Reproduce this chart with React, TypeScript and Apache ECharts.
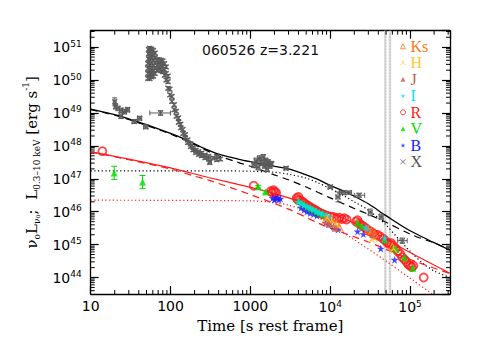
import { useEffect, useRef } from "react";
import * as echarts from "echarts";

// ---------- axis tick labels ----------
const xTickValues = [10, 100, 1000, 1e4, 1e5];
const xTickLabels = ["10", "100", "1000", "{b|10}{s|4}", "{b|10}{s|5}"];
const yTickExps = [44, 45, 46, 47, 48, 49, 50, 51];

// ---------- model curves: [time s, log10 L] ----------
const blackSolid = [
  [10, 49.12], [20, 48.95], [40, 48.72], [70, 48.52], [100, 48.38], [160, 48.18], [250, 47.95],
  [400, 47.75], [700, 47.6], [1000, 47.52], [2000, 47.38], [3000, 47.3], [5000, 47.12], [7000, 46.98],
  [10000, 46.8], [15000, 46.62], [20000, 46.47], [30000, 46.24], [50000, 45.88], [100000, 45.42],
  [200000, 45.06], [316000, 44.83],
];
const blackDashed = [
  [10, 49.1], [20, 48.93], [40, 48.7], [70, 48.5], [100, 48.36], [160, 48.15], [250, 47.92],
  [400, 47.7], [700, 47.5], [1000, 47.38], [2000, 47.12], [3000, 46.97], [5000, 46.75], [10000, 46.42],
  [20000, 46.1], [30000, 45.92], [50000, 45.68], [100000, 45.32], [200000, 45.05], [316000, 44.85],
];
const blackDotted = [
  [10, 47.24], [500, 47.24], [1000, 47.23], [2000, 47.2], [3000, 47.14], [5000, 47.02], [7000, 46.88],
  [10000, 46.7], [15000, 46.48], [20000, 46.3], [30000, 46.05], [50000, 45.6], [70000, 45.2],
  [100000, 44.8], [150000, 44.4], [200000, 44.2], [316000, 44.0],
];
const redSolid = [
  [10, 47.82], [30, 47.6], [100, 47.33], [300, 47.04], [1000, 46.74], [2000, 46.55], [5000, 46.25],
  [10000, 45.97], [30000, 45.45], [100000, 44.76], [316000, 44.13],
];
const redDashed = [
  [10, 47.82], [30, 47.58], [100, 47.3], [200, 47.08], [300, 46.96], [1000, 46.52], [3000, 46.08],
  [7000, 45.66], [10000, 45.5], [30000, 45.08], [100000, 44.55], [316000, 44.12],
];
const redDotted = [
  [10, 46.35], [1000, 46.33], [2000, 46.28], [3000, 46.2], [5000, 46.02], [10000, 45.62],
  [20000, 45.15], [50000, 44.5], [100000, 43.98], [190000, 43.5], [220000, 43.4],
];

// ---------- vertical markers (s) ----------
const vLines = [49000, 56000];

// ---------- X-ray data: [t, log10 L, err dex, tLo, tHi] ----------
const xEarly = [
  [20, 49.34, 0.12, 19.2, 20.8], [20.5, 49.2, 0.08, 19.7, 21.3], [22, 49.14, 0.07, 21, 23],
  [24, 49.08, 0.07, 23, 25], [24, 48.9, 0.07, 23, 25], [26.5, 49.04, 0.07, 25, 28],
  [29, 49.1, 0.07, 27.5, 30.5], [35, 48.74, 0.06, 33, 37], [41, 48.84, 0.06, 38.5, 43.5],
  [49, 48.58, 0.06, 46, 52], [75, 49.0, 0.07, 55, 100],
];
const xLate = [
  [310, 47.5, 0.06, 295, 325],
  [1100, 47.42, 0.08, 1050, 1150], [1180, 47.55, 0.08, 1120, 1240], [1250, 47.35, 0.08, 1190, 1310],
  [1300, 47.62, 0.08, 1240, 1360], [1380, 47.48, 0.08, 1320, 1440], [1450, 47.66, 0.08, 1390, 1510],
  [1500, 47.4, 0.08, 1440, 1560], [1560, 47.55, 0.08, 1500, 1620], [1620, 47.3, 0.08, 1560, 1680],
  [1680, 47.5, 0.08, 1620, 1740], [1760, 47.4, 0.08, 1700, 1820], [1850, 47.45, 0.08, 1790, 1910],
  [2800, 47.32, 0.05, 2650, 2950],
  [10000, 46.75, 0.05, 9400, 10600], [12500, 46.45, 0.15, 11800, 13200], [14000, 46.58, 0.05, 13000, 15000],
  [17000, 46.58, 0.05, 15500, 18500], [23000, 46.5, 0.06, 20000, 27000], [31600, 45.98, 0.1, 30000, 33500],
  [43500, 45.85, 0.08, 41000, 46000], [80000, 45.12, 0.08, 70000, 92000],
];
// flare: [t, log10 L]
const flare = [
  [52, 50.05], [52, 50.2], [52, 50.35], [52, 50.5], [53, 50.65], [53, 50.8], [53, 50.93],
  [55, 50.05], [55, 50.18], [55, 50.32], [55, 50.46], [55, 50.6], [55, 50.74], [55, 50.88], [55, 50.97],
  [58, 50.1], [58, 50.24], [58, 50.38], [58, 50.52], [58, 50.66], [58, 50.8], [58, 50.94],
  [61, 50.12], [61, 50.28], [61, 50.44], [61, 50.6], [61, 50.76], [61, 50.9],
  [64, 50.2], [64, 50.36], [64, 50.52], [64, 50.68], [64, 50.82],
  [68, 50.3], [68, 50.46], [68, 50.62], [72, 50.32], [72, 50.48], [72, 50.62],
  [76, 50.28], [76, 50.45], [76, 50.6], [80, 50.25], [80, 50.42], [80, 50.58],
  [84, 50.15], [84, 50.32], [84, 50.5], [88, 50.0], [88, 50.2], [88, 50.4],
  [93, 49.75], [93, 49.95], [93, 50.12], [98, 49.55], [98, 49.72], [104, 49.35], [104, 49.5],
  [111, 49.1], [111, 49.25], [118, 48.9], [118, 49.05], [126, 48.72], [126, 48.85],
  [134, 48.55], [134, 48.66], [143, 48.38], [143, 48.5], [153, 48.25], [153, 48.34],
  [164, 48.1], [164, 48.18], [178, 47.98], [178, 48.06], [192, 47.88], [192, 47.94],
  [207, 47.8], [207, 47.86], [225, 47.74], [225, 47.82], [245, 47.7], [245, 47.78],
  [270, 47.64], [270, 47.72], [300, 47.6], [300, 47.68], [340, 47.63], [380, 47.58], [380, 47.68], [420, 47.6],
];

// ---------- optical data: [t, log10 L] ----------
const rPoints = [
  [14, 47.84], [1100, 46.79],
  [1800, 46.62], [1870, 46.58], [1950, 46.65], [2020, 46.6], [2100, 46.58],
  [3800, 46.42], [3900, 46.36], [4000, 46.45], [4200, 46.35], [4400, 46.32], [4600, 46.28], [4800, 46.25],
  [5000, 46.2], [5300, 46.18], [5600, 46.14], [6000, 46.1], [6400, 46.06], [6800, 46.02], [7200, 45.98],
  [7600, 45.95], [8000, 45.92], [9000, 45.88], [10000, 45.85], [11000, 45.84], [12000, 45.8],
  [13000, 45.82], [14000, 45.78], [15000, 45.8], [16000, 45.76],
  [21000, 45.7], [22000, 45.74], [23000, 45.64], [24500, 45.6], [26000, 45.55], [28000, 45.5],
  [30000, 45.42], [32000, 45.4], [34000, 45.35], [36000, 45.3], [39000, 45.3], [42000, 45.25],
  [46000, 45.18], [49000, 45.12], [52000, 45.06], [55000, 45.02], [58000, 45.04], [62000, 44.96],
  [66000, 44.88], [70000, 44.8], [75000, 44.72], [80000, 44.62], [85000, 44.55], [90000, 44.48],
  [95000, 44.4], [100000, 44.36], [105000, 44.32], [110000, 44.36], [148000, 44.0],
];
// V: [t, log10 L, err dex]
const vPoints = [
  [19.7, 47.18, 0.2], [44.6, 46.9, 0.2], [1250, 46.76, 0.04], [1550, 46.6, 0.04],
  [4000, 46.33, 0], [4400, 46.27, 0], [4800, 46.22, 0], [5300, 46.15, 0], [5800, 46.1, 0], [6300, 46.05, 0],
  [6900, 46.0, 0], [7500, 45.96, 0], [8200, 45.92, 0], [9000, 45.87, 0],
  [22000, 45.66, 0.03], [25000, 45.56, 0.03],
  [48000, 45.15, 0.03], [62000, 44.92, 0.03], [67000, 44.86, 0.04], [85000, 44.6, 0.04], [108000, 44.28, 0.05],
];
const iPoints = [
  [4000, 46.3], [4300, 46.26], [4700, 46.21], [5100, 46.16], [5600, 46.12], [6100, 46.07], [6700, 46.02],
  [7300, 45.98], [8000, 45.94], [9000, 45.88], [9800, 45.85], [28000, 45.52], [29500, 45.48], [48000, 45.2],
];
const bPoints = [
  [1900, 46.42], [2000, 46.36], [2080, 46.4], [2180, 46.43], [2280, 46.37], [2380, 46.4],
  [4300, 46.12], [4700, 46.06], [5100, 46.0], [5600, 45.96], [6200, 45.93], [6800, 45.88],
  [8800, 45.66], [9500, 45.62], [11000, 45.55], [12500, 45.46], [22000, 45.4], [26000, 45.32],
  [43000, 44.88], [64000, 44.54],
];
const ksPoints = [
  [8800, 45.76], [9500, 45.7], [10200, 45.8], [11000, 45.64], [12000, 45.66], [13000, 45.52],
  [30000, 45.45], [33000, 45.4], [36000, 45.32], [60000, 44.95],
];
const hPoints = [[9200, 45.8], [10500, 45.72], [12000, 45.6], [33000, 45.15], [35000, 45.2], [62000, 44.86]];
const jPoints = [[9800, 45.62], [11500, 45.5], [34000, 45.3]];

const legendNames = ["Ks", "H", "J", "I", "R", "V", "B", "X"];
const legendColors = ["#ff7a1a", "#ffc933", "#c65a55", "#00e0ff", "#ff1a1a", "#00e000", "#1a1aff", "#555555"];

const P = (v: number) => Math.pow(10, v);
const toPts = (a: number[][]) => a.map((d) => [d[0], P(d[1])]);

const STAR = "path://M50,0L61,35L98,35L68,57L79,91L50,70L21,91L32,57L2,35L39,35Z";
const CROSS = "path://M0,0L10,10M10,0L0,10";
const HSYM = "path://M0,10L5,4L10,10M5,4L5,0";
const FONT = "DejaVu Sans";

function errRender(color: string, cap: number) {
  return (_p: any, api: any) => {
    const t = api.value(0), L = api.value(1), lo = api.value(2), hi = api.value(3), tl = api.value(4), th = api.value(5);
    const c = api.coord([t, L]);
    const a = api.coord([t, lo]);
    const b = api.coord([t, hi]);
    const l = api.coord([tl, L]);
    const r = api.coord([th, L]);
    const st = { stroke: color, lineWidth: 1 };
    const ch: any[] = [];
    if (Math.abs(a[1] - b[1]) > 0.5) {
      ch.push({ type: "line", shape: { x1: c[0], y1: a[1], x2: c[0], y2: b[1] }, style: st });
      ch.push({ type: "line", shape: { x1: c[0] - cap, y1: a[1], x2: c[0] + cap, y2: a[1] }, style: st });
      ch.push({ type: "line", shape: { x1: c[0] - cap, y1: b[1], x2: c[0] + cap, y2: b[1] }, style: st });
    }
    if (Math.abs(r[0] - l[0]) > 0.5) {
      ch.push({ type: "line", shape: { x1: l[0], y1: c[1], x2: r[0], y2: c[1] }, style: st });
      ch.push({ type: "line", shape: { x1: l[0], y1: c[1] - cap, x2: l[0], y2: c[1] + cap }, style: st });
      ch.push({ type: "line", shape: { x1: r[0], y1: c[1] - cap, x2: r[0], y2: c[1] + cap }, style: st });
    }
    return { type: "group", children: ch };
  };
}

export default function App() {
  const ref = useRef<HTMLDivElement>(null);
  useEffect(() => {
    if (!ref.current) return;
    const chart = echarts.init(ref.current, null, { renderer: "svg", width: 491, height: 360 });

    const xMin = 10, xMax = P(5.5), yMin = P(43.5), yMax = P(51.5);
    const xMinor: number[][] = [];
    for (let d = 1; d <= 5; d++) for (let k = 2; k <= 9; k++) { const v = k * P(d); if (v < xMax) xMinor.push([v, P(47)]); }
    const yMinor: number[][] = [];
    for (let d = 43; d <= 51; d++) for (let k = 2; k <= 9; k++) { const v = k * P(d); if (v > yMin && v < yMax) yMinor.push([100, v]); }

    const tickStyle = { stroke: "#000", lineWidth: 1 };
    const xMinorRender = (params: any, api: any) => {
      const cs = params.coordSys;
      const x = api.coord([api.value(0), api.value(1)])[0];
      const b = cs.y + cs.height;
      return { type: "group", children: [
        { type: "line", shape: { x1: x, y1: b, x2: x, y2: b - 4 }, style: tickStyle },
        { type: "line", shape: { x1: x, y1: cs.y, x2: x, y2: cs.y + 4 }, style: tickStyle },
      ] };
    };
    const yMinorRender = (params: any, api: any) => {
      const cs = params.coordSys;
      const y = api.coord([api.value(0), api.value(1)])[1];
      const r = cs.x + cs.width;
      return { type: "group", children: [
        { type: "line", shape: { x1: cs.x, y1: y, x2: cs.x + 4, y2: y }, style: tickStyle },
        { type: "line", shape: { x1: r, y1: y, x2: r - 4, y2: y }, style: tickStyle },
      ] };
    };
    const vlineRender = (params: any, api: any) => {
      const cs = params.coordSys;
      const x = api.coord([api.value(0), api.value(1)])[0];
      return { type: "group", children: [
        { type: "line", shape: { x1: x, y1: cs.y, x2: x, y2: cs.y + cs.height }, style: { stroke: "#dcdcdc", lineWidth: 2.5 } },
        { type: "line", shape: { x1: x, y1: cs.y, x2: x, y2: cs.y + cs.height }, style: { stroke: "#a8a8a8", lineWidth: 0.8, lineDash: [1, 2] } },
      ] };
    };

    const lineSeries = (data: number[][], color: string, type: any, width: number) => ({
      type: "line", data: toPts(data), showSymbol: false, symbol: "none", smooth: 0.3,
      lineStyle: { color, width, type }, silent: true, z: 2,
    });

    const xErrData = [...xEarly, ...xLate].map((d) => [d[0], P(d[1]), P(d[1] - d[2]), P(d[1] + d[2]), d[3], d[4]]);
    const flareErr = flare.map((d) => [d[0], P(d[1]), P(d[1] - 0.05), P(d[1] + 0.05), d[0], d[0]]);
    const xMarks = [...xEarly, ...xLate, ...flare].map((d) => [d[0], P(d[1])]);
    const vErr = vPoints.filter((d) => d[2] > 0).map((d) => [d[0], P(d[1]), P(d[1] - d[2]), P(d[1] + d[2]), d[0], d[0]]);

    const labelRich = {
      b: { fontSize: 14, fontFamily: FONT, color: "#000", lineHeight: 16 },
      s: { fontSize: 9, fontFamily: FONT, color: "#000", verticalAlign: "top", lineHeight: 9 },
    };
    const axisLine = { show: true, lineStyle: { color: "#000", width: 1.3 } };
    const majorTick = { show: true, inside: true, length: 8, lineStyle: { color: "#000", width: 1.2 } };

    chart.setOption({
      animation: false,
      backgroundColor: "#fff",
      title: {
        text: "060526 z=3.221", left: 202, top: 43, padding: 0,
        textStyle: { fontFamily: FONT, fontSize: 14, fontWeight: "normal", color: "#111" },
      },
      legend: {
        orient: "vertical", left: 400, top: 38, padding: 0, itemGap: 0, itemWidth: 5, itemHeight: 5,
        selectedMode: false,
        itemStyle: { borderWidth: 1 },
        textStyle: { fontFamily: "Liberation Serif", fontSize: 16, lineHeight: 16.5 },
        data: legendNames.map((n, i) => ({ name: n, textStyle: { color: legendColors[i] } })),
      },
      grid: { left: 90.7, right: 41, top: 30.7, bottom: 66, outerBoundsMode: "none" },
      xAxis: [
        {
          type: "log", logBase: 10, min: xMin, max: xMax, axisLine, axisTick: majorTick, splitLine: { show: false },
          axisLabel: {
            margin: 5, color: "#000", fontFamily: FONT, fontSize: 14, showMaxLabel: false,
            formatter: (v: number) => {
              const i = xTickValues.findIndex((t) => Math.abs(Math.log10(t) - Math.log10(v)) < 1e-6);
              return i >= 0 ? xTickLabels[i] : "";
            },
            rich: labelRich,
          },
          name: "Time [s rest frame]", nameLocation: "middle", nameGap: 18,
          nameTextStyle: { fontFamily: "DejaVu Serif", fontSize: 15, color: "#000" },
        },
        {
          type: "log", logBase: 10, min: xMin, max: xMax, position: "top", axisLine, axisTick: majorTick,
          axisLabel: { show: false }, splitLine: { show: false },
        },
      ],
      yAxis: [
        {
          type: "log", logBase: 10, min: yMin, max: yMax, axisLine, axisTick: majorTick, splitLine: { show: false },
          axisLabel: {
            margin: 9, color: "#000", fontFamily: FONT, fontSize: 14, showMinLabel: false, showMaxLabel: false,
            formatter: (v: number) => {
              const e = Math.round(Math.log10(v));
              if (Math.abs(Math.log10(v) - e) > 1e-6 || !yTickExps.includes(e)) return "";
              return `{b|10}{s|${e}}`;
            },
            rich: labelRich,
          },
          name: "{m|ν}{sb|o}{m|L}{sb|ν}{ss|o}{m|;  L}{sb|0.3–10 keV}{m| [erg s}{sp|-1}{m|]}",
          nameLocation: "middle", nameRotate: 90, nameGap: 46,
          nameTextStyle: {
            rich: {
              m: { fontFamily: "DejaVu Serif", fontSize: 15, color: "#000", lineHeight: 20 },
              sb: { fontFamily: "DejaVu Serif", fontSize: 9, color: "#000", verticalAlign: "bottom", lineHeight: 11 },
              ss: { fontFamily: "DejaVu Serif", fontSize: 7, color: "#000", verticalAlign: "bottom", lineHeight: 8 },
              sp: { fontFamily: "DejaVu Serif", fontSize: 9, color: "#000", verticalAlign: "top", lineHeight: 11 },
            },
          },
        },
        {
          type: "log", logBase: 10, min: yMin, max: yMax, position: "right", axisLine, axisTick: majorTick,
          axisLabel: { show: false }, splitLine: { show: false },
        },
      ],
      series: [
        { type: "custom", renderItem: vlineRender, data: vLines.map((t) => [t, P(47)]), silent: true, z: 1, clip: false },
        { type: "custom", renderItem: xMinorRender, data: xMinor, silent: true, z: 1, clip: false },
        { type: "custom", renderItem: yMinorRender, data: yMinor, silent: true, z: 1, clip: false },
        lineSeries(blackSolid, "#000", "solid", 1.3),
        lineSeries(blackDashed, "#000", [7, 5], 1.2),
        lineSeries(blackDotted, "#000", [1.2, 2.5], 1.2),
        lineSeries(redSolid, "#ff1a1a", "solid", 1.2),
        lineSeries(redDashed, "#ff1a1a", [7, 5], 1.2),
        lineSeries(redDotted, "#ff1a1a", [1.2, 2.5], 1.2),
        { type: "custom", renderItem: errRender("#5a5a5a", 2.5), data: [...flareErr, ...xErrData], encode: { x: 0, y: 1 }, silent: true, z: 3 },
        {
          name: "X", type: "scatter", data: xMarks, symbol: CROSS, symbolSize: 5, silent: true, z: 3,
          itemStyle: { color: "transparent", borderColor: "#5a5a5a", borderWidth: 1.4 },
        },
        {
          name: "R", type: "scatter", data: toPts(rPoints), symbol: "circle", symbolSize: 8, silent: true, z: 4,
          itemStyle: { color: "transparent", borderColor: "#ff1a1a", borderWidth: 1.8 },
        },
        {
          name: "B", type: "scatter", data: toPts(bPoints), symbol: STAR, symbolSize: 8, silent: true, z: 4,
          itemStyle: { color: "#1a1aff" },
        },
        { type: "custom", renderItem: errRender("#00e000", 3), data: vErr, encode: { x: 0, y: 1 }, silent: true, z: 4 },
        {
          name: "V", type: "scatter", data: toPts(vPoints), symbol: "triangle", symbolSize: 7, silent: true, z: 4,
          itemStyle: { color: "#00e000" },
        },
        {
          name: "I", type: "scatter", data: toPts(iPoints), symbol: STAR, symbolSize: 8, silent: true, z: 4,
          itemStyle: { color: "#00e0ff" },
        },
        {
          name: "Ks", type: "scatter", data: toPts(ksPoints), symbol: "triangle", symbolSize: 7, silent: true, z: 4,
          itemStyle: { color: "transparent", borderColor: "#ff7a1a", borderWidth: 1.2 },
        },
        {
          name: "H", type: "scatter", data: toPts(hPoints), symbol: HSYM, symbolSize: 7, silent: true, z: 4,
          itemStyle: { color: "transparent", borderColor: "#ffc933", borderWidth: 1.2 },
        },
        {
          name: "J", type: "scatter", data: toPts(jPoints), symbol: "triangle", symbolSize: 7, silent: true, z: 4,
          itemStyle: { color: "#c65a55" },
        },
      ],
    });
    return () => chart.dispose();
  }, []);
  return <div ref={ref} style={{ position: "fixed", left: 0, top: 0, width: 491, height: 360, background: "#fff" }} />;
}
